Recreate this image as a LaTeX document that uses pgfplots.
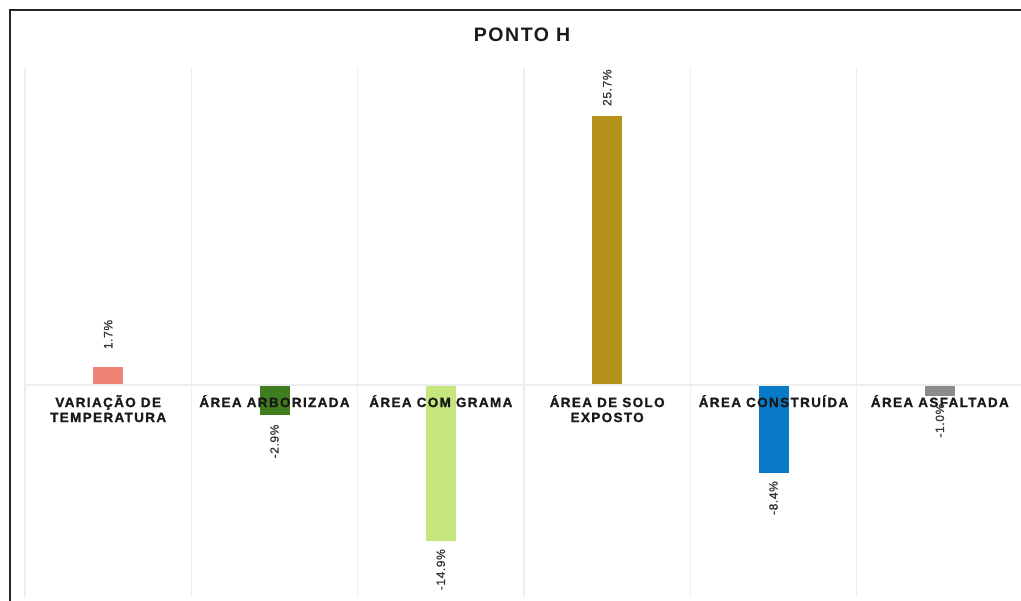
\documentclass[border=0pt]{standalone}
\usepackage{pgfplots}
\pgfplotsset{compat=1.18}
\usepackage{fontspec}
\setmainfont{Liberation Sans}
\newfontfamily\catfont[LetterSpace=10,BoldFeatures={FakeBold=1.2}]{Liberation Sans}
\newfontfamily\titlefont[LetterSpace=8]{Liberation Sans}
\newfontfamily\valfont[LetterSpace=5,FakeBold=0.8]{Liberation Sans}
\definecolor{cSalmon}{RGB}{238,130,115}
\definecolor{cDGreen}{RGB}{64,125,31}
\definecolor{cLGreen}{RGB}{197,230,125}
\definecolor{cGold}{RGB}{181,147,27}
\definecolor{cBlue}{RGB}{8,122,200}
\definecolor{cGray}{RGB}{140,140,140}
\definecolor{cGrid}{RGB}{238,238,238}
\begin{document}
\begin{tikzpicture}
\useasboundingbox (0,0) rectangle (1021pt,601pt);
\begin{axis}[
  at={(25pt,4pt)}, anchor=south west,
  scale only axis, width=998pt, height=529pt,
  xmin=-0.5, xmax=5.5, ymin=-20.25, ymax=30.3,
  axis x line=middle, axis y line=none,
  x axis line style={draw=cGrid, line width=1.5pt, -},
  xtick={0,1,2,3,4,5},
  xticklabels={{\begin{tabular}[t]{@{}c@{}}VARIAÇÃO DE\\TEMPERATURA\end{tabular}},{ÁREA ARBORIZADA},{ÁREA COM GRAMA},{\begin{tabular}[t]{@{}c@{}}ÁREA DE SOLO\\EXPOSTO\end{tabular}},{ÁREA CONSTRUÍDA},{ÁREA ASFALTADA}},
  major tick length=0pt, minor tick length=0pt,
  minor xtick={-0.5,0.5,1.5,2.5,3.5,4.5,5.5},
  xminorgrids=true, xmajorgrids=false,
  minor x grid style={draw=cGrid, line width=1.5pt},
  xticklabel style={font=\catfont\bfseries\fontsize{13.5}{15}\selectfont, anchor=base, yshift=-22pt, text=black!90},
  ytick=\empty,
  axis on top,
  clip=false,
  title={\titlefont\bfseries PONTO H},
  title style={at={(0.5,1)}, anchor=base, yshift=20pt, xshift=-2pt, font=\fontsize{19.5}{22}\selectfont, text=black!90},
  ybar, bar width=30pt, bar shift=0pt,
  nodes near coords={\pgfmathprintnumber[fixed,fixed zerofill,precision=1,assume math mode=true]{\pgfplotspointmeta}\%},
  point meta=y,
  nodes near coords style={rotate=90, font=\valfont\fontsize{12}{14}\selectfont, text=black!80},
]
\addplot[fill=cSalmon, draw=none, every node near coord/.append style={anchor=west, inner xsep=18pt}] coordinates {(0,1.7)};
\addplot[fill=cDGreen, draw=none, every node near coord/.append style={anchor=east, inner xsep=9pt}] coordinates {(1,-2.9)};
\addplot[fill=cLGreen, draw=none, every node near coord/.append style={anchor=east, inner xsep=8pt}] coordinates {(2,-14.9)};
\addplot[fill=cGold, draw=none, every node near coord/.append style={anchor=west, inner xsep=10pt}] coordinates {(3,25.7)};
\addplot[fill=cBlue, draw=none, every node near coord/.append style={anchor=east, inner xsep=8pt}] coordinates {(4,-8.4)};
\addplot[fill=cGray, draw=none, every node near coord/.append style={anchor=east, inner xsep=8pt}] coordinates {(5,-1.0)};
\end{axis}
\draw[line width=2pt, black!85] (10pt,-5pt) -- (10pt,590.5pt) -- (1030pt,590.5pt);
\end{tikzpicture}
\end{document}
